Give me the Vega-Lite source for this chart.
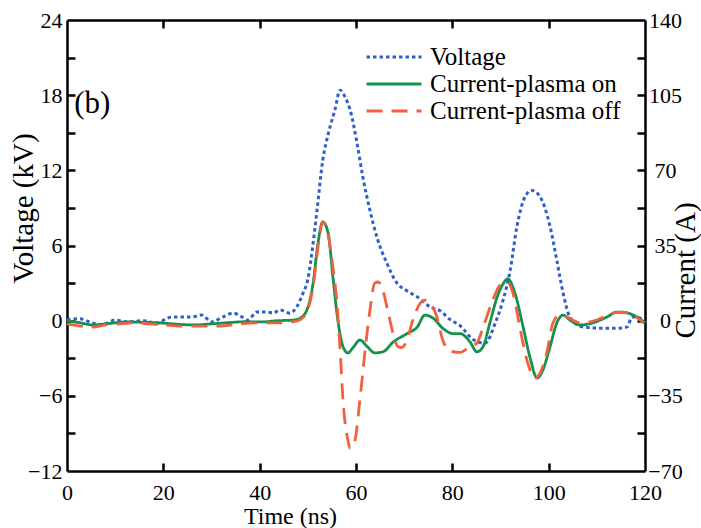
{
  "$schema": "https://vega.github.io/schema/vega-lite/v6.json",
  "width": 578,
  "height": 451,
  "autosize": {"type": "none"},
  "padding": {"left": 67, "top": 20, "right": 56, "bottom": 57},
  "background": "white",
  "config": {
    "font": "Liberation Serif",
    "view": {"stroke": null},
    "legend": {"orient": "none", "legendX": 298, "legendY": 23.5, "labelFont": "Liberation Serif", "labelFontSize": 25, "labelColor": "#000", "symbolSize": 3025, "symbolStrokeWidth": 3, "clipHeight": 27, "rowPadding": 0, "labelOffset": 7, "padding": 0, "symbolType": "stroke", "labelLimit": 400}
  },
  "datasets": {
    "d": [
      {"series": "Voltage", "t": 0, "value": 0.1},
      {"series": "Voltage", "t": 2.7, "value": 0.15},
      {"series": "Voltage", "t": 5.4, "value": -0.2},
      {"series": "Voltage", "t": 7.5, "value": -0.3},
      {"series": "Voltage", "t": 10, "value": 0.05},
      {"series": "Voltage", "t": 12.5, "value": -0.1},
      {"series": "Voltage", "t": 15.8, "value": 0.0},
      {"series": "Voltage", "t": 18.7, "value": -0.2},
      {"series": "Voltage", "t": 20.8, "value": 0.2},
      {"series": "Voltage", "t": 22, "value": 0.3},
      {"series": "Voltage", "t": 24, "value": 0.3},
      {"series": "Voltage", "t": 26, "value": 0.3},
      {"series": "Voltage", "t": 28, "value": 0.45},
      {"series": "Voltage", "t": 30, "value": -0.1},
      {"series": "Voltage", "t": 32.4, "value": 0.3},
      {"series": "Voltage", "t": 34.5, "value": 0.6},
      {"series": "Voltage", "t": 36.3, "value": 0.3},
      {"series": "Voltage", "t": 37.6, "value": 0.05},
      {"series": "Voltage", "t": 39.4, "value": 0.7},
      {"series": "Voltage", "t": 41.5, "value": 0.7},
      {"series": "Voltage", "t": 42.8, "value": 0.6},
      {"series": "Voltage", "t": 44.2, "value": 0.85},
      {"series": "Voltage", "t": 46.3, "value": 0.6},
      {"series": "Voltage", "t": 47.7, "value": 1.1},
      {"series": "Voltage", "t": 49, "value": 2.2},
      {"series": "Voltage", "t": 50, "value": 3.3},
      {"series": "Voltage", "t": 51.1, "value": 6.2},
      {"series": "Voltage", "t": 51.9, "value": 8.8},
      {"series": "Voltage", "t": 53.1, "value": 12.8},
      {"series": "Voltage", "t": 54.3, "value": 15.0},
      {"series": "Voltage", "t": 55.6, "value": 16.8},
      {"series": "Voltage", "t": 56.7, "value": 18.4},
      {"series": "Voltage", "t": 57.8, "value": 17.8},
      {"series": "Voltage", "t": 58.8, "value": 16.8},
      {"series": "Voltage", "t": 60.2, "value": 14.2},
      {"series": "Voltage", "t": 61.4, "value": 11.5},
      {"series": "Voltage", "t": 62.9, "value": 8.8},
      {"series": "Voltage", "t": 64.4, "value": 6.6},
      {"series": "Voltage", "t": 66.4, "value": 4.6},
      {"series": "Voltage", "t": 68.5, "value": 3.0},
      {"series": "Voltage", "t": 70.5, "value": 2.4},
      {"series": "Voltage", "t": 72.7, "value": 1.9},
      {"series": "Voltage", "t": 75.4, "value": 1.1},
      {"series": "Voltage", "t": 77.4, "value": 0.8},
      {"series": "Voltage", "t": 79.5, "value": 0.1},
      {"series": "Voltage", "t": 81.6, "value": -0.4},
      {"series": "Voltage", "t": 84.3, "value": -1.5},
      {"series": "Voltage", "t": 86.8, "value": -1.8},
      {"series": "Voltage", "t": 88.9, "value": -0.2},
      {"series": "Voltage", "t": 90.5, "value": 1.6},
      {"series": "Voltage", "t": 92, "value": 4.0},
      {"series": "Voltage", "t": 93.4, "value": 7.5},
      {"series": "Voltage", "t": 95.1, "value": 9.9},
      {"series": "Voltage", "t": 96.5, "value": 10.4},
      {"series": "Voltage", "t": 98.2, "value": 9.9},
      {"series": "Voltage", "t": 100.3, "value": 7.5},
      {"series": "Voltage", "t": 101.7, "value": 4.8},
      {"series": "Voltage", "t": 103, "value": 2.2},
      {"series": "Voltage", "t": 104.4, "value": 0.3},
      {"series": "Voltage", "t": 107.1, "value": -0.5},
      {"series": "Voltage", "t": 110.7, "value": -0.6},
      {"series": "Voltage", "t": 114.8, "value": -0.6},
      {"series": "Voltage", "t": 116.3, "value": -0.5},
      {"series": "Voltage", "t": 117.3, "value": 0.3},
      {"series": "Voltage", "t": 119, "value": 0.2},
      {"series": "Voltage", "t": 120, "value": -0.2},

      {"series": "Current-plasma on", "t": 0, "value": 0},
      {"series": "Current-plasma on", "t": 2.7, "value": -1},
      {"series": "Current-plasma on", "t": 5.4, "value": -2},
      {"series": "Current-plasma on", "t": 8, "value": -1.5},
      {"series": "Current-plasma on", "t": 12.5, "value": -0.6},
      {"series": "Current-plasma on", "t": 16, "value": -0.8},
      {"series": "Current-plasma on", "t": 19, "value": -1},
      {"series": "Current-plasma on", "t": 22, "value": -1.5},
      {"series": "Current-plasma on", "t": 26, "value": -2},
      {"series": "Current-plasma on", "t": 30, "value": -1.5},
      {"series": "Current-plasma on", "t": 33, "value": -1},
      {"series": "Current-plasma on", "t": 37, "value": -0.5},
      {"series": "Current-plasma on", "t": 40, "value": -0.6},
      {"series": "Current-plasma on", "t": 44, "value": 0},
      {"series": "Current-plasma on", "t": 47, "value": 0.3},
      {"series": "Current-plasma on", "t": 48.4, "value": 1.2},
      {"series": "Current-plasma on", "t": 49.8, "value": 5},
      {"series": "Current-plasma on", "t": 51.1, "value": 17.5},
      {"series": "Current-plasma on", "t": 52.1, "value": 36},
      {"series": "Current-plasma on", "t": 53.1, "value": 46},
      {"series": "Current-plasma on", "t": 54.2, "value": 41},
      {"series": "Current-plasma on", "t": 55.2, "value": 20.5},
      {"series": "Current-plasma on", "t": 56.3, "value": -1},
      {"series": "Current-plasma on", "t": 57.3, "value": -12},
      {"series": "Current-plasma on", "t": 58.3, "value": -15},
      {"series": "Current-plasma on", "t": 59.4, "value": -12.5},
      {"series": "Current-plasma on", "t": 60.8, "value": -9},
      {"series": "Current-plasma on", "t": 62.3, "value": -12},
      {"series": "Current-plasma on", "t": 63.9, "value": -15},
      {"series": "Current-plasma on", "t": 65.6, "value": -14.5},
      {"series": "Current-plasma on", "t": 67.7, "value": -10},
      {"series": "Current-plasma on", "t": 70.6, "value": -6},
      {"series": "Current-plasma on", "t": 72.7, "value": -3},
      {"series": "Current-plasma on", "t": 74.3, "value": 2.6},
      {"series": "Current-plasma on", "t": 76, "value": 1.2},
      {"series": "Current-plasma on", "t": 78, "value": -3.5},
      {"series": "Current-plasma on", "t": 80.1, "value": -6},
      {"series": "Current-plasma on", "t": 81.6, "value": -6},
      {"series": "Current-plasma on", "t": 83.7, "value": -10},
      {"series": "Current-plasma on", "t": 85.1, "value": -14.5},
      {"series": "Current-plasma on", "t": 86.4, "value": -12},
      {"series": "Current-plasma on", "t": 87.8, "value": -1},
      {"series": "Current-plasma on", "t": 89.3, "value": 11},
      {"series": "Current-plasma on", "t": 90.5, "value": 17},
      {"series": "Current-plasma on", "t": 91.5, "value": 19.5},
      {"series": "Current-plasma on", "t": 93, "value": 12.8},
      {"series": "Current-plasma on", "t": 94.7, "value": -3},
      {"series": "Current-plasma on", "t": 96.1, "value": -16.9},
      {"series": "Current-plasma on", "t": 97.6, "value": -26.7},
      {"series": "Current-plasma on", "t": 98.8, "value": -23},
      {"series": "Current-plasma on", "t": 100.3, "value": -12},
      {"series": "Current-plasma on", "t": 101.7, "value": -1},
      {"series": "Current-plasma on", "t": 103, "value": 2.6},
      {"series": "Current-plasma on", "t": 104.4, "value": 0.3},
      {"series": "Current-plasma on", "t": 106.5, "value": -2},
      {"series": "Current-plasma on", "t": 109.2, "value": -1},
      {"series": "Current-plasma on", "t": 112.1, "value": 1.7},
      {"series": "Current-plasma on", "t": 114.2, "value": 4},
      {"series": "Current-plasma on", "t": 116.3, "value": 3.6},
      {"series": "Current-plasma on", "t": 118.3, "value": 1.7},
      {"series": "Current-plasma on", "t": 120, "value": -1},

      {"series": "Current-plasma off", "t": 0, "value": -1.5},
      {"series": "Current-plasma off", "t": 2.7, "value": -2.5},
      {"series": "Current-plasma off", "t": 5.4, "value": -3},
      {"series": "Current-plasma off", "t": 8, "value": -2},
      {"series": "Current-plasma off", "t": 11, "value": -1.5},
      {"series": "Current-plasma off", "t": 14, "value": -1},
      {"series": "Current-plasma off", "t": 17, "value": -1.5},
      {"series": "Current-plasma off", "t": 20, "value": -2},
      {"series": "Current-plasma off", "t": 24, "value": -2.5},
      {"series": "Current-plasma off", "t": 28, "value": -2.5},
      {"series": "Current-plasma off", "t": 32, "value": -2.5},
      {"series": "Current-plasma off", "t": 36, "value": -1.5},
      {"series": "Current-plasma off", "t": 40, "value": -1},
      {"series": "Current-plasma off", "t": 44, "value": -1},
      {"series": "Current-plasma off", "t": 47, "value": -0.5},
      {"series": "Current-plasma off", "t": 48.4, "value": 0.5},
      {"series": "Current-plasma off", "t": 49.8, "value": 4},
      {"series": "Current-plasma off", "t": 51.1, "value": 16},
      {"series": "Current-plasma off", "t": 52.1, "value": 34},
      {"series": "Current-plasma off", "t": 53.1, "value": 46},
      {"series": "Current-plasma off", "t": 54.2, "value": 40},
      {"series": "Current-plasma off", "t": 55.2, "value": 25},
      {"series": "Current-plasma off", "t": 56, "value": 9.6},
      {"series": "Current-plasma off", "t": 56.7, "value": -13.6},
      {"series": "Current-plasma off", "t": 57.3, "value": -37},
      {"series": "Current-plasma off", "t": 58.3, "value": -55.5},
      {"series": "Current-plasma off", "t": 58.8, "value": -59.5},
      {"series": "Current-plasma off", "t": 59.8, "value": -55.5},
      {"series": "Current-plasma off", "t": 60.8, "value": -37},
      {"series": "Current-plasma off", "t": 61.9, "value": -13.6},
      {"series": "Current-plasma off", "t": 62.9, "value": 5},
      {"series": "Current-plasma off", "t": 63.9, "value": 17.5},
      {"series": "Current-plasma off", "t": 64.6, "value": 18},
      {"series": "Current-plasma off", "t": 65.6, "value": 14},
      {"series": "Current-plasma off", "t": 66.7, "value": 3.6},
      {"series": "Current-plasma off", "t": 67.7, "value": -6},
      {"series": "Current-plasma off", "t": 68.7, "value": -12},
      {"series": "Current-plasma off", "t": 69.5, "value": -12.5},
      {"series": "Current-plasma off", "t": 70.6, "value": -9},
      {"series": "Current-plasma off", "t": 71.8, "value": 0.3},
      {"series": "Current-plasma off", "t": 73.3, "value": 8},
      {"series": "Current-plasma off", "t": 74.3, "value": 9.6},
      {"series": "Current-plasma off", "t": 75.4, "value": 8},
      {"series": "Current-plasma off", "t": 76.8, "value": 1.7},
      {"series": "Current-plasma off", "t": 78, "value": -9},
      {"series": "Current-plasma off", "t": 79.5, "value": -14},
      {"series": "Current-plasma off", "t": 81.6, "value": -14.8},
      {"series": "Current-plasma off", "t": 83.7, "value": -12},
      {"series": "Current-plasma off", "t": 85.1, "value": -10.4},
      {"series": "Current-plasma off", "t": 86.4, "value": -3},
      {"series": "Current-plasma off", "t": 88.4, "value": 9.6},
      {"series": "Current-plasma off", "t": 89.9, "value": 16.6},
      {"series": "Current-plasma off", "t": 91.3, "value": 18},
      {"series": "Current-plasma off", "t": 92.6, "value": 12.8},
      {"series": "Current-plasma off", "t": 94, "value": -3},
      {"series": "Current-plasma off", "t": 95.5, "value": -18.5},
      {"series": "Current-plasma off", "t": 97.2, "value": -26.7},
      {"series": "Current-plasma off", "t": 98.2, "value": -24.4},
      {"series": "Current-plasma off", "t": 99.6, "value": -15},
      {"series": "Current-plasma off", "t": 100.9, "value": -1},
      {"series": "Current-plasma off", "t": 102.3, "value": 2.6},
      {"series": "Current-plasma off", "t": 103.8, "value": 1.7},
      {"series": "Current-plasma off", "t": 106.5, "value": -1},
      {"series": "Current-plasma off", "t": 110, "value": 0.3},
      {"series": "Current-plasma off", "t": 113.4, "value": 3.6},
      {"series": "Current-plasma off", "t": 115.4, "value": 4},
      {"series": "Current-plasma off", "t": 117.5, "value": 2.6},
      {"series": "Current-plasma off", "t": 119.6, "value": -1}
    ]
  },
  "data": {"name": "d"},
  "resolve": {"scale": {"y": "independent"}, "axis": {"x": "independent", "y": "independent"}},
  "layer": [
    {
      "transform": [{"filter": "datum.series === 'Voltage'"}],
      "mark": {"type": "line", "strokeWidth": 3, "strokeCap": "butt", "interpolate": "monotone"},
      "encoding": {
        "x": {"field": "t", "type": "quantitative", "scale": {"domain": [0, 120], "nice": false, "zero": false},
          "axis": {"orient": "bottom", "values": [0, 20, 40, 60, 80, 100, 120], "title": "Time (ns)", "grid": false, "domain": true, "domainColor": "#000", "domainWidth": 2.5, "ticks": false, "labelColor": "#000", "labelFont": "Liberation Serif", "labelFontSize": 22, "labelFlush": false, "labelOverlap": false, "labelPadding": 11, "titleFont": "Liberation Serif", "titleColor": "#000", "titleFontWeight": "normal", "titleX": 223, "titleY": 57, "titleBaseline": "bottom", "titleFontSize": 24}},
        "y": {"field": "value", "type": "quantitative", "scale": {"domain": [-12, 24], "nice": false, "zero": false},
          "axis": {"orient": "left", "values": [-12, -6, 0, 6, 12, 18, 24], "title": "Voltage (kV)", "grid": false, "domain": true, "domainColor": "#000", "domainWidth": 2.5, "ticks": false, "labelColor": "#000", "labelFont": "Liberation Serif", "labelFontSize": 22, "labelFlush": false, "labelOverlap": false, "labelPadding": 5, "titleFont": "Liberation Serif", "titleColor": "#000", "titleFontWeight": "normal", "titleAngle": -90, "titleX": -29, "titleY": 188, "titleBaseline": "bottom", "titleFontSize": 29}},
        "color": {"field": "series", "type": "nominal", "scale": {"domain": ["Voltage", "Current-plasma on", "Current-plasma off"], "range": ["#2f5fcb", "#14914a", "#f2603f"]}, "legend": {"title": null}},
        "strokeDash": {"field": "series", "type": "nominal", "scale": {"domain": ["Voltage", "Current-plasma on", "Current-plasma off"], "range": [[3.5, 3], [1, 0], [16, 9]]}, "legend": {"title": null}}
      }
    },
    {
      "transform": [{"filter": "datum.series !== 'Voltage'"}],
      "mark": {"type": "line", "strokeWidth": 2.8, "strokeCap": "butt", "interpolate": "monotone"},
      "encoding": {
        "x": {"field": "t", "type": "quantitative", "scale": {"domain": [0, 120], "nice": false, "zero": false},
          "axis": {"orient": "top", "values": [0, 20, 40, 60, 80, 100, 120], "labels": false, "title": null, "grid": false, "domain": true, "domainColor": "#000", "domainWidth": 2.5, "ticks": false}},
        "y": {"field": "value", "type": "quantitative", "scale": {"domain": [-70, 140], "nice": false, "zero": false},
          "axis": {"orient": "right", "values": [-70, -35, 0, 35, 70, 105, 140], "title": "Current (A)", "grid": false, "domain": true, "domainColor": "#000", "domainWidth": 2.5, "ticks": false, "labelColor": "#000", "labelFont": "Liberation Serif", "labelFontSize": 22, "labelFlush": false, "labelOverlap": false, "labelAlign": "center", "labelPadding": 20, "titleFont": "Liberation Serif", "titleColor": "#000", "titleFontWeight": "normal", "titleAngle": -90, "titleX": 55, "titleY": 250, "titleBaseline": "bottom", "titleFontSize": 29}},
        "color": {"field": "series", "type": "nominal", "scale": {"domain": ["Voltage", "Current-plasma on", "Current-plasma off"], "range": ["#2f5fcb", "#14914a", "#f2603f"]}, "legend": {"title": null}},
        "strokeDash": {"field": "series", "type": "nominal", "scale": {"domain": ["Voltage", "Current-plasma on", "Current-plasma off"], "range": [[3.5, 3], [1, 0], [16, 9]]}, "legend": {"title": null}}
      }
    },
    {
      "data": {"values": [{}]},
      "mark": {"type": "point", "opacity": 0},
      "encoding": {
        "x": {"datum": 0, "type": "quantitative",
          "axis": {"orient": "top", "offset": -451, "values": [20, 40, 60, 80, 100], "labels": false, "title": null, "grid": false, "domain": false, "ticks": true, "tickSize": 8, "tickColor": "#000", "tickWidth": 2.5}},
        "y": {"datum": 0, "type": "quantitative", "scale": {"domain": [-12, 24], "nice": false, "zero": false},
          "axis": {"orient": "right", "offset": -578, "values": [-9, -6, -3, 0, 3, 6, 9, 12, 15, 18, 21], "labels": false, "title": null, "grid": false, "domain": false, "ticks": true, "tickSize": 8, "tickColor": "#000", "tickWidth": 2.5}}
      }
    },
    {
      "data": {"values": [{}]},
      "mark": {"type": "point", "opacity": 0},
      "encoding": {
        "x": {"datum": 0, "type": "quantitative",
          "axis": {"orient": "bottom", "offset": -451, "values": [20, 40, 60, 80, 100], "labels": false, "title": null, "grid": false, "domain": false, "ticks": true, "tickSize": 8, "tickColor": "#000", "tickWidth": 2.5}},
        "y": {"datum": 0, "type": "quantitative", "scale": {"domain": [-70, 140], "nice": false, "zero": false},
          "axis": {"orient": "left", "offset": -578, "values": [-52.5, -35, -17.5, 0, 17.5, 35, 52.5, 70, 87.5, 105, 122.5], "labels": false, "title": null, "grid": false, "domain": false, "ticks": true, "tickSize": 8, "tickColor": "#000", "tickWidth": 2.5}}
      }
    },
    {
      "data": {"values": [{"label": "(b)"}]},
      "mark": {"type": "text", "fontSize": 31, "align": "left", "baseline": "middle", "color": "#000", "font": "Liberation Serif"},
      "encoding": {
        "text": {"field": "label"},
        "x": {"datum": 1.5, "type": "quantitative", "axis": null},
        "y": {"datum": 17.3, "type": "quantitative", "scale": {"domain": [-12, 24], "nice": false, "zero": false}, "axis": null}
      }
    }
  ]
}
